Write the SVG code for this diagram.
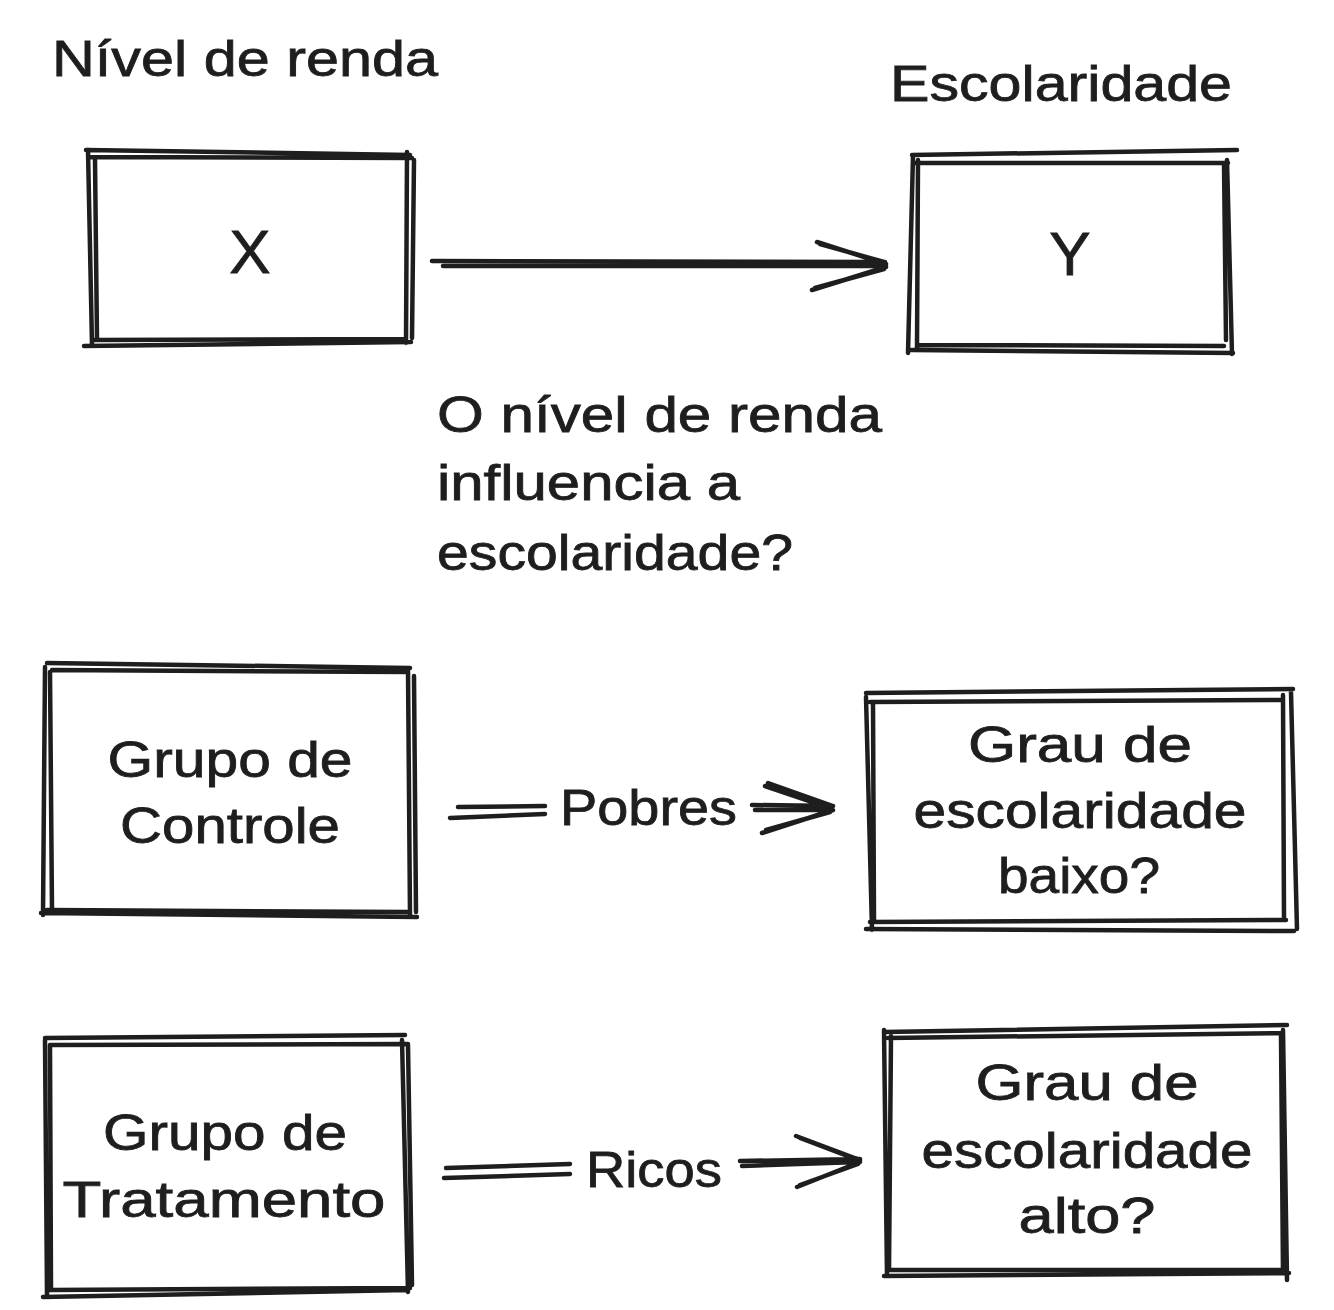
<svg xmlns="http://www.w3.org/2000/svg" width="1334" height="1310" viewBox="0 0 1334 1310">
<style>
.s{fill:none;stroke:#1e1e1e;stroke-width:4.5;stroke-linecap:round;stroke-linejoin:round}
.t{font-family:"Liberation Sans",Arial,sans-serif;font-size:50px;fill:#1e1e1e;stroke:#1e1e1e;stroke-width:0.8}
.m{text-anchor:middle}
.b{font-size:62px}
</style>
<rect width="1334" height="1310" fill="#ffffff"/>
<g id="label-nivel"><text class="t" x="52" y="76" textLength="386" lengthAdjust="spacingAndGlyphs">Nível de renda</text></g>
<g id="label-escolaridade"><text class="t" x="890" y="101" textLength="342" lengthAdjust="spacingAndGlyphs">Escolaridade</text></g>
<g id="node-x">
<path class="s" d="M86 150 L410 155 M90 157 L412 158 M88 150 L92 345 M95 160 L97 340 M407 152 L406 343 M414 160 L412 338 M84 346 L411 342 M92 340 L405 339"/>
<text class="t m b" x="250" y="273">X</text>
</g>
<g id="node-y">
<path class="s" d="M912 155 L1237 150 M915 163 L1228 163 M913 156 L908 353 M918 160 L917 348 M1227 160 L1232 354 M1224 163 L1226 340 M911 350 L1233 353 M918 345 L1224 346"/>
<text class="t m b" x="1070" y="275">Y</text>
</g>
<g id="question">
<text class="t" x="437" y="432" textLength="445" lengthAdjust="spacingAndGlyphs">O nível de renda</text>
<text class="t" x="437" y="500" textLength="303" lengthAdjust="spacingAndGlyphs">influencia a</text>
<text class="t" x="437" y="570" textLength="356" lengthAdjust="spacingAndGlyphs">escolaridade?</text>
</g>
<g id="node-controle">
<path class="s" d="M47 663 L410 668 M52 670 L408 672 M45 667 L43 915 M50 672 L52 910 M408 670 L410 915 M414 676 L416 912 M41 913 L417 917 M47 910 L409 912"/>
<text class="t m" x="230" y="777" textLength="245" lengthAdjust="spacingAndGlyphs">Grupo de</text>
<text class="t m" x="230" y="843" textLength="220" lengthAdjust="spacingAndGlyphs">Controle</text>
</g>
<g id="node-baixo">
<path class="s" d="M866 693 L1293 689 M870 702 L1283 700 M866 697 L872 930 M873 702 L874 922 M1283 695 L1284 920 M1291 692 L1297 929 M866 929 L1294 931 M870 922 L1286 920"/>
<text class="t m" x="1080" y="762" textLength="224" lengthAdjust="spacingAndGlyphs">Grau de</text>
<text class="t m" x="1080" y="828" textLength="333" lengthAdjust="spacingAndGlyphs">escolaridade</text>
<text class="t m" x="1079" y="893" textLength="162" lengthAdjust="spacingAndGlyphs">baixo?</text>
</g>
<g id="node-tratamento">
<path class="s" d="M45 1038 L405 1035 M50 1045 L408 1044 M45 1040 L47 1295 M50 1045 L51 1290 M402 1040 L408 1292 M408 1045 L412 1285 M43 1297 L407 1290 M50 1290 L410 1288"/>
<text class="t m" x="225" y="1150" textLength="244" lengthAdjust="spacingAndGlyphs">Grupo de</text>
<text class="t m" x="224" y="1217" textLength="323" lengthAdjust="spacingAndGlyphs">Tratamento</text>
</g>
<g id="node-alto">
<path class="s" d="M884 1032 L1287 1025 M888 1038 L1283 1033 M884 1030 L887 1275 M891 1036 L889 1270 M1283 1030 L1287 1280 M1281 1035 L1283 1272 M884 1276 L1289 1273 M890 1270 L1282 1270"/>
<text class="t m" x="1087" y="1100" textLength="223" lengthAdjust="spacingAndGlyphs">Grau de</text>
<text class="t m" x="1087" y="1168" textLength="331" lengthAdjust="spacingAndGlyphs">escolaridade</text>
<text class="t m" x="1087" y="1233" textLength="137" lengthAdjust="spacingAndGlyphs">alto?</text>
</g>
<g id="connectors">
<path class="s" d="M432 261 L885 262 M443 266 L886 266 M817 242 L886 264 M820 244 L884 262 M812 290 L886 267 M815 288 L884 269"/>
<path class="s" d="M458 807 L545 806 M450 818 L545 814 M752 805 L833 806 M755 810 L830 810 M768 783 L833 806 M765 786 L830 808 M762 833 L833 810 M766 830 L830 812"/>
<text class="t" x="560" y="825" textLength="177" lengthAdjust="spacingAndGlyphs">Pobres</text>
<path class="s" d="M446 1168 L570 1164 M444 1178 L570 1174 M740 1161 L860 1159 M742 1166 L858 1162 M796 1136 L860 1160 M800 1138 L858 1160 M797 1187 L860 1162 M800 1185 L858 1164"/>
<text class="t" x="586" y="1187" textLength="136" lengthAdjust="spacingAndGlyphs">Ricos</text>
</g>
</svg>
